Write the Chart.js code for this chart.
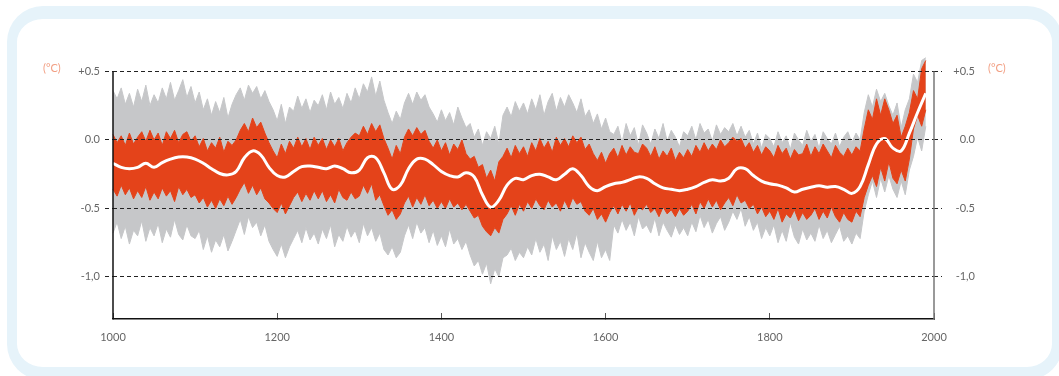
<!DOCTYPE html>
<html>
<head>
<meta charset="utf-8">
<script src="https://cdn.jsdelivr.net/npm/chart.js@4.4.1/dist/chart.umd.min.js"></script>
<style>
  html, body { margin: 0; padding: 0; background: #ffffff; }
  #wrap { position: relative; width: 1059px; height: 376px; overflow: hidden; }
  #frame { position: absolute; left: 7px; top: 6px; width: 1056px; height: 374px; box-sizing: border-box;
           border-style: solid; border-color: #e6f3fa; border-width: 13px 11px 13px 10px; border-radius: 36px; background: #fff; }
  #box { position: absolute; left: 0; top: 0; width: 1059px; height: 376px; }
</style>
</head>
<body>
<div id="wrap">
  <div id="frame"></div>
  <div id="box"><canvas id="c"></canvas></div>
</div>
<script>
// ---- data (5-year steps, 1000-1990) ----
const startYear = 1000;
const stepYears = 5;

const grayTop = [
  0.36,0.30,0.38,0.26,0.34,0.24,0.37,0.28,0.40,0.25,
  0.33,0.27,0.38,0.30,0.42,0.29,0.36,0.44,0.31,0.39,
  0.27,0.35,0.22,0.30,0.18,0.28,0.20,0.31,0.16,0.26,
  0.33,0.38,0.29,0.40,0.34,0.39,0.30,0.36,0.28,0.22,
  0.14,0.26,0.12,0.24,0.21,0.32,0.23,0.30,0.20,0.29,
  0.25,0.33,0.22,0.35,0.26,0.31,0.23,0.34,0.27,0.38,
  0.30,0.41,0.35,0.46,0.32,0.43,0.29,0.20,0.12,0.21,
  0.15,0.27,0.34,0.26,0.35,0.29,0.33,0.24,0.19,0.13,
  0.22,0.14,0.20,0.11,0.24,0.16,0.09,0.12,0.02,0.08,
  -0.04,0.06,0.01,0.10,-0.03,0.18,0.24,0.17,0.28,0.21,
  0.27,0.19,0.30,0.22,0.33,0.18,0.28,0.34,0.21,0.31,
  0.24,0.33,0.27,0.20,0.30,0.17,0.22,0.12,0.19,0.08,
  0.16,0.06,0.04,0.10,-0.02,0.12,0.03,0.09,-0.04,0.11,
  0.05,-0.03,0.08,0.01,0.12,-0.01,0.07,0.02,-0.05,0.06,
  0.03,0.10,0.00,0.12,0.05,0.08,-0.01,0.11,0.04,0.09,
  0.06,0.12,0.03,0.10,0.02,0.07,-0.03,0.05,-0.06,0.04,
  0.01,-0.05,0.06,-0.02,0.03,-0.07,0.05,0.00,-0.04,0.07,
  -0.01,0.04,-0.06,0.06,0.01,-0.03,0.05,-0.05,0.02,0.06,
  -0.02,0.05,0.00,0.20,0.33,0.24,0.37,0.28,0.34,0.25,
  0.18,0.27,0.09,0.22,0.30,0.48,0.42,0.58,0.60
];

const grayBottom = [
  -0.68,-0.60,-0.72,-0.63,-0.76,-0.66,-0.70,-0.59,-0.74,-0.64,
  -0.70,-0.61,-0.75,-0.65,-0.71,-0.58,-0.69,-0.73,-0.62,-0.70,
  -0.72,-0.66,-0.80,-0.70,-0.82,-0.73,-0.78,-0.69,-0.81,-0.74,
  -0.66,-0.58,-0.69,-0.56,-0.64,-0.60,-0.70,-0.62,-0.74,-0.80,
  -0.85,-0.76,-0.86,-0.78,-0.72,-0.66,-0.75,-0.64,-0.73,-0.68,
  -0.76,-0.65,-0.72,-0.62,-0.78,-0.69,-0.74,-0.63,-0.71,-0.66,
  -0.75,-0.61,-0.70,-0.64,-0.74,-0.68,-0.80,-0.84,-0.78,-0.86,
  -0.82,-0.70,-0.62,-0.72,-0.60,-0.68,-0.64,-0.75,-0.66,-0.77,
  -0.70,-0.78,-0.65,-0.76,-0.72,-0.80,-0.74,-0.84,-0.92,-0.88,
  -0.98,-0.90,-1.05,-0.94,-1.00,-0.86,-0.84,-0.79,-0.88,-0.82,
  -0.86,-0.78,-0.84,-0.72,-0.82,-0.76,-0.88,-0.70,-0.80,-0.74,
  -0.85,-0.72,-0.80,-0.68,-0.86,-0.75,-0.82,-0.88,-0.74,-0.86,
  -0.80,-0.88,-0.62,-0.68,-0.58,-0.66,-0.60,-0.70,-0.56,-0.65,
  -0.62,-0.68,-0.57,-0.70,-0.60,-0.66,-0.71,-0.62,-0.69,-0.64,
  -0.70,-0.60,-0.67,-0.55,-0.64,-0.58,-0.68,-0.61,-0.56,-0.66,
  -0.60,-0.52,-0.58,-0.50,-0.63,-0.56,-0.66,-0.60,-0.72,-0.64,
  -0.70,-0.62,-0.75,-0.66,-0.74,-0.60,-0.71,-0.76,-0.65,-0.73,
  -0.68,-0.74,-0.62,-0.72,-0.66,-0.75,-0.69,-0.63,-0.74,-0.70,
  -0.76,-0.68,-0.72,-0.52,-0.40,-0.30,-0.42,-0.28,-0.38,-0.26,
  -0.36,-0.42,-0.30,-0.40,-0.22,-0.12,0.02,-0.08,0.10
];

const orangeTop = [
  0.04,-0.02,0.03,-0.04,0.05,-0.03,0.02,0.06,-0.01,0.07,
  0.00,0.05,-0.04,0.06,0.01,0.07,-0.02,0.04,0.06,-0.01,
  0.03,-0.05,0.01,-0.08,-0.02,-0.06,0.02,-0.09,-0.01,-0.04,
  0.00,0.07,0.12,0.06,0.16,0.09,0.13,0.05,-0.02,-0.08,
  -0.13,-0.03,-0.10,-0.01,-0.06,0.02,-0.05,0.01,-0.07,0.02,
  -0.04,0.01,-0.07,0.00,-0.05,0.01,-0.08,-0.02,0.02,0.05,
  0.03,0.10,0.04,0.12,0.06,0.11,0.01,-0.06,-0.14,-0.04,
  -0.10,0.02,0.08,0.03,0.09,0.04,0.07,-0.01,-0.06,0.00,
  -0.08,-0.02,-0.11,-0.03,-0.07,0.00,-0.10,-0.14,-0.12,-0.20,
  -0.18,-0.28,-0.22,-0.30,-0.16,-0.12,-0.06,-0.13,-0.04,-0.10,
  -0.05,-0.12,-0.02,-0.08,0.01,-0.06,-0.01,-0.09,0.02,-0.04,
  0.01,-0.05,0.03,-0.02,0.02,-0.07,-0.03,-0.10,-0.15,-0.09,
  -0.17,-0.10,-0.06,-0.13,-0.04,-0.11,-0.05,-0.09,-0.10,-0.03,
  -0.06,-0.12,-0.05,-0.14,-0.08,-0.12,-0.06,-0.15,-0.09,-0.13,
  -0.07,-0.12,-0.04,-0.09,-0.02,-0.08,-0.03,-0.07,0.00,-0.05,
  -0.02,0.02,-0.01,0.01,-0.06,-0.02,-0.09,-0.04,-0.11,-0.05,
  -0.08,-0.13,-0.04,-0.10,-0.06,-0.14,-0.07,-0.11,-0.10,-0.03,
  -0.12,-0.05,-0.10,-0.03,-0.08,-0.13,-0.04,-0.09,-0.12,-0.06,
  -0.11,-0.05,-0.08,0.08,0.22,0.15,0.30,0.18,0.30,0.22,
  0.12,0.18,0.02,0.10,0.20,0.36,0.30,0.52,0.58
];

const orangeBottom = [
  -0.36,-0.41,-0.33,-0.40,-0.35,-0.43,-0.37,-0.42,-0.34,-0.44,
  -0.38,-0.43,-0.35,-0.41,-0.37,-0.45,-0.34,-0.40,-0.36,-0.42,
  -0.40,-0.46,-0.42,-0.49,-0.44,-0.50,-0.43,-0.48,-0.41,-0.47,
  -0.42,-0.36,-0.31,-0.39,-0.33,-0.40,-0.35,-0.43,-0.46,-0.50,
  -0.53,-0.46,-0.54,-0.48,-0.42,-0.38,-0.45,-0.39,-0.44,-0.37,
  -0.43,-0.37,-0.45,-0.40,-0.46,-0.36,-0.42,-0.44,-0.38,-0.43,
  -0.41,-0.33,-0.39,-0.32,-0.44,-0.40,-0.48,-0.55,-0.51,-0.58,
  -0.54,-0.46,-0.41,-0.49,-0.42,-0.47,-0.40,-0.48,-0.44,-0.50,
  -0.45,-0.50,-0.43,-0.49,-0.46,-0.51,-0.47,-0.52,-0.57,-0.55,
  -0.63,-0.67,-0.70,-0.64,-0.68,-0.58,-0.54,-0.48,-0.55,-0.47,
  -0.52,-0.45,-0.50,-0.43,-0.48,-0.51,-0.44,-0.49,-0.46,-0.52,
  -0.44,-0.50,-0.42,-0.47,-0.45,-0.52,-0.55,-0.50,-0.58,-0.54,
  -0.60,-0.53,-0.48,-0.54,-0.47,-0.52,-0.46,-0.55,-0.49,-0.51,
  -0.47,-0.53,-0.50,-0.56,-0.49,-0.54,-0.51,-0.56,-0.50,-0.55,
  -0.52,-0.47,-0.54,-0.45,-0.50,-0.43,-0.49,-0.44,-0.51,-0.46,
  -0.42,-0.48,-0.40,-0.46,-0.44,-0.50,-0.47,-0.54,-0.49,-0.56,
  -0.52,-0.58,-0.50,-0.60,-0.54,-0.57,-0.51,-0.59,-0.53,-0.58,
  -0.55,-0.50,-0.58,-0.52,-0.57,-0.49,-0.56,-0.60,-0.53,-0.58,
  -0.60,-0.52,-0.56,-0.42,-0.33,-0.26,-0.34,-0.20,-0.30,-0.16,
  -0.28,-0.32,-0.22,-0.30,-0.14,0.08,0.18,0.10,0.22
];

// smoothed curve, 10-year steps 1000-1990
const smoothStep = 10;
const smoothed = [
  -0.17,-0.20,-0.21,-0.20,-0.17,-0.20,-0.165,-0.14,-0.125,-0.125,
  -0.14,-0.17,-0.21,-0.245,-0.255,-0.23,-0.13,-0.08,-0.11,-0.20,
  -0.26,-0.27,-0.23,-0.195,-0.19,-0.20,-0.21,-0.19,-0.21,-0.24,
  -0.22,-0.13,-0.13,-0.24,-0.36,-0.33,-0.21,-0.14,-0.14,-0.18,
  -0.23,-0.26,-0.27,-0.24,-0.27,-0.40,-0.49,-0.44,-0.33,-0.28,
  -0.29,-0.26,-0.25,-0.27,-0.29,-0.25,-0.21,-0.26,-0.34,-0.37,
  -0.34,-0.32,-0.31,-0.29,-0.27,-0.28,-0.32,-0.35,-0.36,-0.37,
  -0.36,-0.34,-0.31,-0.29,-0.30,-0.28,-0.21,-0.21,-0.26,-0.30,
  -0.32,-0.33,-0.35,-0.38,-0.36,-0.345,-0.335,-0.345,-0.34,-0.36,
  -0.39,-0.34,-0.18,-0.03,0.01,-0.06,-0.08,0.05,0.20,0.34
];

const xTicks = [1000, 1200, 1400, 1600, 1800, 2000];
const yTickValues = [0.5, 0, -0.5, -1];
const yTickLabels = ['+0.5', '0.0', '-0.5', '-1,0'];
const unitLabel = '(°C)';

// ---- build points ----
const toPts = (arr, step) => arr.map((v, i) => ({ x: startYear + i * step, y: v }));

const GRAY = '#c6c7c9';
const ORANGE = '#e4431a';
const FONT = { family: 'Lato, "Open Sans", sans-serif', size: 11 };
const TXT = '#666666';

const yLabel = v => {
  const i = yTickValues.findIndex(t => Math.abs(t - v) < 1e-9);
  return i >= 0 ? yTickLabels[i] : '';
};

const decor = {
  id: 'decor',
  afterDraw(chart) {
    const { ctx, chartArea, scales } = chart;
    const yTop = scales.y.getPixelForValue(0.5);
    ctx.save();
    ctx.lineWidth = 1.5;
    ctx.strokeStyle = '#111';
    ctx.beginPath();
    ctx.moveTo(chartArea.left, yTop);
    ctx.lineTo(chartArea.left, chartArea.bottom);
    ctx.stroke();
    ctx.strokeStyle = '#777';
    ctx.beginPath();
    ctx.moveTo(chartArea.right, yTop);
    ctx.lineTo(chartArea.right, chartArea.bottom);
    ctx.stroke();
    ctx.fillStyle = '#f29f83';
    ctx.font = '11px Lato, "Open Sans", sans-serif';
    ctx.textBaseline = 'middle';
    ctx.textAlign = 'left';
    ctx.fillText(unitLabel, 43, yTop - 3);
    ctx.fillText(unitLabel, 988, yTop - 3);
    ctx.restore();
  }
};

new Chart(document.getElementById('c'), {
  type: 'line',
  data: {
    datasets: [
      { data: toPts(smoothed, smoothStep), borderColor: '#ffffff', borderWidth: 3, pointRadius: 0, tension: 0.4, fill: false, clip: false },
      { data: toPts(orangeTop, stepYears), borderColor: ORANGE, backgroundColor: ORANGE, borderWidth: 1, pointRadius: 0, tension: 0, fill: 2, clip: false },
      { data: toPts(orangeBottom, stepYears), borderColor: ORANGE, borderWidth: 1, pointRadius: 0, tension: 0, fill: false, clip: false },
      { data: toPts(grayTop, stepYears), borderColor: GRAY, backgroundColor: GRAY, borderWidth: 1, pointRadius: 0, tension: 0, fill: 4, clip: false },
      { data: toPts(grayBottom, stepYears), borderColor: GRAY, borderWidth: 1, pointRadius: 0, tension: 0, fill: false, clip: false }
    ]
  },
  options: {
    responsive: true,
    maintainAspectRatio: false,
    animation: false,
    events: [],
    layout: { padding: { top: 55, left: 0, right: 84, bottom: 0 } },
    plugins: { legend: { display: false }, tooltip: { enabled: false }, filler: { propagate: false } },
    scales: {
      x: {
        type: 'linear', position: 'bottom', min: 1000, max: 2000,
        afterBuildTicks: s => { s.ticks = xTicks.map(v => ({ value: v })); },
        afterFit: s => { s.height = 57; },
        grid: { drawOnChartArea: false, drawTicks: true, tickLength: -6, tickColor: '#555', tickWidth: 1 },
        border: { display: true, color: '#111', width: 1.5 },
        ticks: { padding: 18, color: TXT, font: FONT, maxRotation: 0, autoSkip: false, callback: v => String(v) }
      },
      y: {
        type: 'linear', position: 'left', min: -1.307, max: 0.62,
        afterBuildTicks: s => { s.ticks = yTickValues.map(v => ({ value: v })); },
        afterFit: s => { s.width = 113; },
        grid: { z: 1, color: '#222', lineWidth: 1, tickLength: 8, tickBorderDash: [4, 3], tickColor: '#222' },
        border: { display: false, dash: [4, 3] },
        ticks: { padding: 5, color: TXT, font: FONT, autoSkip: false, callback: yLabel }
      },
      y2: {
        type: 'linear', position: 'right', min: -1.307, max: 0.62,
        afterBuildTicks: s => { s.ticks = yTickValues.map(v => ({ value: v })); },
        afterFit: s => { s.width = 41; },
        grid: { z: 1, drawOnChartArea: false, tickLength: 8, tickBorderDash: [4, 3], tickColor: '#222' },
        border: { display: false, dash: [4, 3] },
        ticks: { padding: 10, crossAlign: 'far', color: TXT, font: FONT, autoSkip: false, callback: yLabel }
      }
    }
  },
  plugins: [decor]
});
</script>
</body>
</html>
